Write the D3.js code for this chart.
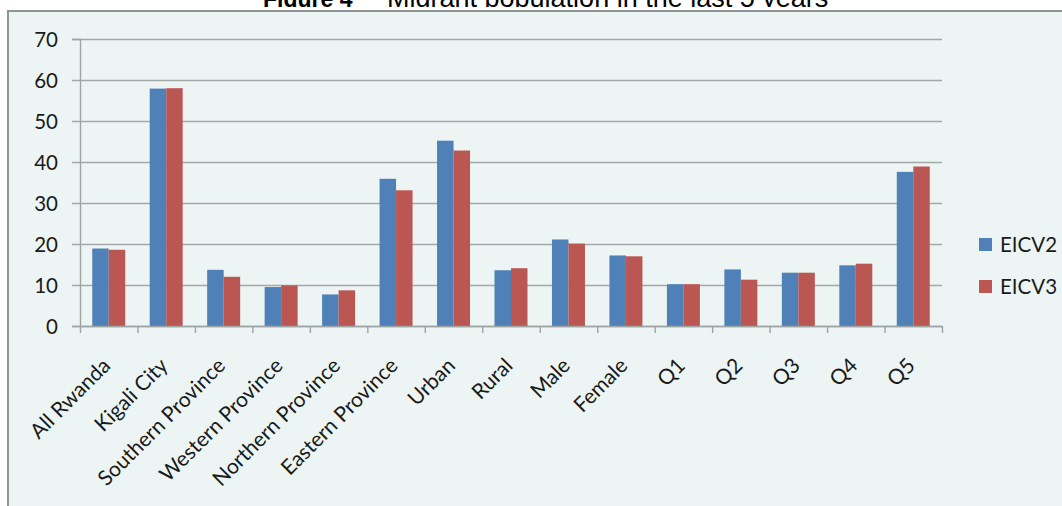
<!DOCTYPE html>
<html>
<head>
<meta charset="utf-8">
<script src="https://cdn.jsdelivr.net/npm/d3@7"></script>
<style>
  body { margin: 0; background: #ffffff; }
  svg { display: block; }
  .tick text { font-family: Lato, "Open Sans", sans-serif; }
</style>
</head>
<body>
<div id="chart"></div>
<script>
var categories = ["All Rwanda", "Kigali City", "Southern Province", "Western Province", "Northern Province",
  "Eastern Province", "Urban", "Rural", "Male", "Female", "Q1", "Q2", "Q3", "Q4", "Q5"];
var series = ["EICV2", "EICV3"];
var eicv2 = [18.9, 57.9, 13.7, 9.5, 7.7, 35.9, 45.2, 13.6, 21.1, 17.2, 10.2, 13.8, 13.0, 14.8, 37.6];
var eicv3 = [18.6, 58.0, 12.0, 9.9, 8.7, 33.1, 42.8, 14.1, 20.1, 17.0, 10.2, 11.3, 13.0, 15.2, 38.9];
var yTicks = [0, 10, 20, 30, 40, 50, 60, 70];

var width = 1062;
var height = 506;
var FONT = "Lato, 'Open Sans', sans-serif";
var colors = ["#4f81b8", "#bb5753"];

var plot_left = 80, plot_right = 942, plot_top = 39, plot_bottom = 326;

var svg = d3.select("#chart").append("svg")
  .attr("width", width)
  .attr("height", height)

// title, only a strip of it shows above the frame
svg.append("clipPath").attr("id", "titleClip")
  .append("rect").attr("x", 0).attr("y", 0).attr("width", width).attr("height", 7)

var title = svg.append("text")
  .attr("y", 7)
  .attr("clip-path", "url(#titleClip)")
  .attr("font-family", "Arial, 'Liberation Sans', sans-serif")
  .attr("fill", "#000")
title.append("tspan").attr("x", 263).attr("font-weight", "bold").attr("font-size", 23).text("Figure 4")
title.append("tspan").attr("x", 387).attr("font-size", 27).text("Migrant population in the last 5 years")

// chart frame
svg.append("rect")
  .attr("x", 8)
  .attr("y", 11)
  .attr("width", width + 20)
  .attr("height", height + 20)
  .attr("fill", "#ecf5f3")
  .attr("stroke", "#8f9494")
  .attr("stroke-width", 2)

var x = d3.scaleBand()
  .domain(categories)
  .range([plot_left, plot_right])
  .paddingInner(0.426)
  .paddingOuter(0.213);

var x1 = d3.scaleBand()
  .domain(series)
  .range([0, x.bandwidth()]);

var y = d3.scaleLinear()
  .domain([0, 70])
  .range([plot_bottom, plot_top]);

var xEdge = d3.scaleLinear()
  .domain([0, categories.length])
  .range([plot_left, plot_right]);

// gridlines
svg.append("g")
  .selectAll("line")
  .data(yTicks)
  .enter().append("line")
    .attr("x1", plot_left - 8)
    .attr("x2", plot_right)
    .attr("y1", function(d){ return Math.round(y(d)) + 0.5 })
    .attr("y2", function(d){ return Math.round(y(d)) + 0.5 })
    .attr("stroke", "#a2a8a8")
    .attr("stroke-width", 1.4)

// y axis
var yAxis = svg.append("g")
  .attr("transform", "translate(" + plot_left + ",0)")
  .call(d3.axisLeft(y).tickValues(yTicks).tickSize(8).tickPadding(14));
yAxis.select(".domain").attr("stroke", "#9ea3a3").attr("stroke-width", 1.4);
yAxis.selectAll(".tick line").attr("stroke", "none");
yAxis.selectAll(".tick text")
  .attr("font-size", 20.5)
  .attr("fill", "#1a1a1a")
  .attr("dy", "0.36em")

// bars
var groups = svg.append("g")
  .selectAll("g")
  .data(categories)
  .enter().append("g")
    .attr("transform", function(d){ return "translate(" + x(d) + ",0)" });

groups.selectAll("rect")
  .data(function(d, i){ return [{s: "EICV2", v: eicv2[i]}, {s: "EICV3", v: eicv3[i]}] })
  .enter().append("rect")
    .attr("x", function(d){ return x1(d.s) })
    .attr("y", function(d){ return y(d.v) })
    .attr("width", x1.bandwidth())
    .attr("height", function(d){ return y(0) - y(d.v) })
    .attr("fill", function(d, i){ return colors[i] });

// x axis with ticks between categories
var xAxis = svg.append("g")
  .attr("transform", "translate(0," + plot_bottom + ")")
  .call(d3.axisBottom(xEdge).ticks(categories.length).tickFormat("").tickSize(7).tickSizeOuter(0));
xAxis.select(".domain").attr("stroke", "#9ea3a3").attr("stroke-width", 1.4);
xAxis.selectAll(".tick line").attr("stroke", "#9ea3a3").attr("stroke-width", 1.4);

svg.append("g")
  .selectAll("text")
  .data(categories)
  .enter().append("text")
    .attr("transform", function(d){
      return "translate(" + (x(d) + x.bandwidth() / 2 + 3) + "," + 367 + ") rotate(-45)"
    })
    .attr("text-anchor", "end")
    .attr("font-family", FONT)
    .attr("font-size", 21)
    .attr("fill", "#1a1a1a")
    .text(function(d){ return d });

// legend
var legend = svg.append("g")
  .attr("transform", "translate(979,238)")
for (var i = 0; i < series.length; i++){
  legend.append("rect")
    .attr("x", 0)
    .attr("y", i * 42)
    .attr("width", 13)
    .attr("height", 13)
    .attr("fill", colors[i])
  legend.append("text")
    .attr("x", 21)
    .attr("y", i * 42 + 14)
    .attr("font-family", FONT)
    .attr("font-size", 20.5)
    .attr("fill", "#1a1a1a")
    .text(series[i])
}
</script>
</body>
</html>
